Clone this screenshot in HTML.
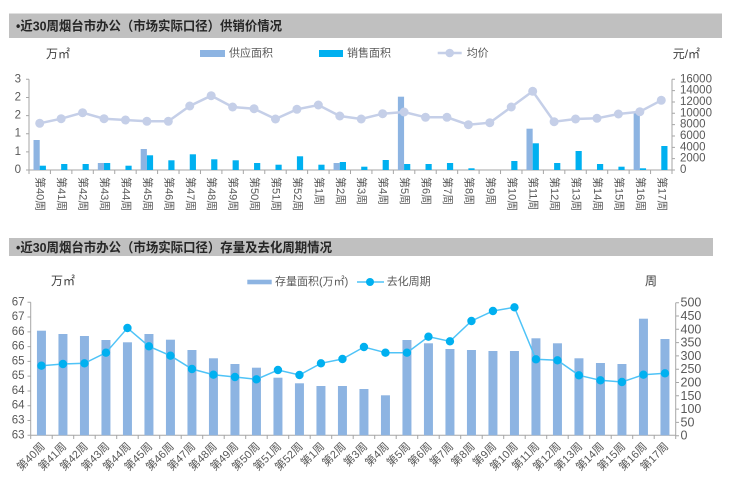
<!DOCTYPE html>
<html><head><meta charset="utf-8"><style>
html,body{margin:0;padding:0;background:#fff;}
svg{display:block;}
text{font-family:"Liberation Sans","Noto Sans CJK SC",sans-serif;fill:#595959;}
.h{font-weight:bold;fill:#262626;font-size:13px;}
.ax{font-size:11.5px;}
.lg{font-size:11px;}
.xl{font-size:11px;}
</style></head><body>
<svg width="740" height="500" viewBox="0 0 740 500" xmlns="http://www.w3.org/2000/svg">
<rect x="0" y="0" width="740" height="500" fill="#fff"/>
<!-- Top header -->
<rect x="9" y="13.5" width="713" height="24.5" fill="#C0C0C0"/>
<text class="h" x="16" y="26" dominant-baseline="central" textLength="266" lengthAdjust="spacingAndGlyphs">•近30周烟台市办公（市场实际口径）供销价情况</text>

<!-- Top legend -->
<text class="lg" x="46" y="54" dominant-baseline="central" style="font-size:12px;fill:#404040">万㎡</text>
<rect x="200" y="50" width="25" height="7" fill="#8DB4E2"/>
<text class="lg" x="229" y="53.5" dominant-baseline="central">供应面积</text>
<rect x="319" y="50" width="24" height="7" fill="#00B0F0"/>
<text class="lg" x="347" y="53.5" dominant-baseline="central">销售面积</text>
<line x1="437.7" y1="53" x2="461.7" y2="53" stroke="#C5CFE8" stroke-width="2.5"/>
<circle cx="449.7" cy="53" r="4.3" fill="#C5CFE8"/>
<text class="lg" x="466.7" y="53.5" dominant-baseline="central">均价</text>
<text class="lg" x="672.7" y="54" dominant-baseline="central" style="font-size:12px;fill:#404040">元/㎡</text>

<!-- Top axes -->
<g stroke="#A6A6A6" stroke-width="1" fill="none">
<line x1="29" y1="79.3" x2="29" y2="170"/>
<line x1="672" y1="79.3" x2="672" y2="170"/>
<line x1="29" y1="170" x2="672" y2="170"/>
<path d="M26 170H29M26 151.86H29M26 133.72H29M26 115.58H29M26 97.44H29M26 79.3H29"/>
<path d="M672 170H675M672 158.66H675M672 147.32H675M672 135.98H675M672 124.64H675M672 113.3H675M672 101.96H675M672 90.62H675M672 79.3H675"/>
<path d="M29 170V174M50.43 170V174M71.87 170V174M93.3 170V174M114.73 170V174M136.17 170V174M157.6 170V174M179.03 170V174M200.47 170V174M221.9 170V174M243.33 170V174M264.77 170V174M286.2 170V174M307.63 170V174M329.07 170V174M350.5 170V174M371.93 170V174M393.37 170V174M414.8 170V174M436.23 170V174M457.67 170V174M479.1 170V174M500.53 170V174M521.97 170V174M543.4 170V174M564.83 170V174M586.27 170V174M607.7 170V174M629.13 170V174M650.57 170V174M672 170V174"/>
</g>
<g class="ax" text-anchor="end">
<text x="21" y="170" dominant-baseline="central" class="ax">0</text>
<text x="21" y="151.86" dominant-baseline="central" class="ax">1</text>
<text x="21" y="133.72" dominant-baseline="central" class="ax">1</text>
<text x="21" y="115.58" dominant-baseline="central" class="ax">2</text>
<text x="21" y="97.44" dominant-baseline="central" class="ax">2</text>
<text x="21" y="79.3" dominant-baseline="central" class="ax">3</text>
</g>
<g>
<text x="680" y="170" dominant-baseline="central" class="ax">0</text>
<text x="680" y="158.66" dominant-baseline="central" class="ax">2000</text>
<text x="680" y="147.32" dominant-baseline="central" class="ax">4000</text>
<text x="680" y="135.98" dominant-baseline="central" class="ax">6000</text>
<text x="680" y="124.64" dominant-baseline="central" class="ax">8000</text>
<text x="680" y="113.3" dominant-baseline="central" class="ax">10000</text>
<text x="680" y="101.96" dominant-baseline="central" class="ax">12000</text>
<text x="680" y="90.62" dominant-baseline="central" class="ax">14000</text>
<text x="680" y="79.3" dominant-baseline="central" class="ax">16000</text>
</g>

<!-- Top supply bars -->
<g fill="#8DB4E2">
<rect x="33.52" y="140" width="6.2" height="30"/>
<rect x="97.82" y="163" width="6.2" height="7"/>
<rect x="140.68" y="149" width="6.2" height="21"/>
<rect x="333.58" y="163" width="6.2" height="7"/>
<rect x="397.88" y="96.7" width="6.2" height="73.3"/>
<rect x="526.48" y="128.7" width="6.2" height="41.3"/>
<rect x="633.65" y="112.3" width="6.2" height="57.7"/>
</g>
<!-- Top sales bars -->
<g fill="#00B0F0">
<rect x="39.72" y="165.7" width="6.2" height="4.3"/>
<rect x="61.15" y="164" width="6.2" height="6"/>
<rect x="82.58" y="164" width="6.2" height="6"/>
<rect x="104.02" y="163" width="6.2" height="7"/>
<rect x="125.45" y="165.7" width="6.2" height="4.3"/>
<rect x="146.88" y="155.3" width="6.2" height="14.7"/>
<rect x="168.32" y="160.3" width="6.2" height="9.7"/>
<rect x="189.75" y="154.3" width="6.2" height="15.7"/>
<rect x="211.18" y="159.3" width="6.2" height="10.7"/>
<rect x="232.61" y="160.3" width="6.2" height="9.7"/>
<rect x="254.05" y="163" width="6.2" height="7"/>
<rect x="275.48" y="164.7" width="6.2" height="5.3"/>
<rect x="296.91" y="156.3" width="6.2" height="13.7"/>
<rect x="318.35" y="164.7" width="6.2" height="5.3"/>
<rect x="339.78" y="162" width="6.2" height="8"/>
<rect x="361.21" y="166.7" width="6.2" height="3.3"/>
<rect x="382.65" y="160" width="6.2" height="10"/>
<rect x="404.08" y="164" width="6.2" height="6"/>
<rect x="425.51" y="164" width="6.2" height="6"/>
<rect x="446.95" y="163" width="6.2" height="7"/>
<rect x="468.38" y="168.3" width="6.2" height="1.7"/>
<rect x="511.25" y="161" width="6.2" height="9"/>
<rect x="532.68" y="143.3" width="6.2" height="26.7"/>
<rect x="554.11" y="163" width="6.2" height="7"/>
<rect x="575.55" y="151" width="6.2" height="19"/>
<rect x="596.98" y="164" width="6.2" height="6"/>
<rect x="618.41" y="166.7" width="6.2" height="3.3"/>
<rect x="639.85" y="168.3" width="6.2" height="1.7"/>
<rect x="661.28" y="146" width="6.2" height="24"/>
</g>
<!-- Top price line -->
<polyline fill="none" stroke="#C5CFE8" stroke-width="2.5" points="39.72,123.3 61.15,118.7 82.58,112.7 104.02,118.7 125.45,120 146.88,121.3 168.32,121.3 189.75,106 211.18,95.7 232.61,107 254.05,108.7 275.48,119 296.91,109.3 318.35,105 339.78,116 361.21,119 382.65,113.7 404.08,112 425.51,117.3 446.95,117.3 468.38,124.7 489.81,122.7 511.25,107 532.68,91.3 554.11,121.7 575.55,119 596.98,118.3 618.41,114 639.85,111.7 661.28,100.3"/>
<g fill="#C5CFE8">
<circle cx="39.72" cy="123.3" r="4.5"/><circle cx="61.15" cy="118.7" r="4.5"/><circle cx="82.58" cy="112.7" r="4.5"/><circle cx="104.02" cy="118.7" r="4.5"/><circle cx="125.45" cy="120" r="4.5"/><circle cx="146.88" cy="121.3" r="4.5"/><circle cx="168.32" cy="121.3" r="4.5"/><circle cx="189.75" cy="106" r="4.5"/><circle cx="211.18" cy="95.7" r="4.5"/><circle cx="232.61" cy="107" r="4.5"/><circle cx="254.05" cy="108.7" r="4.5"/><circle cx="275.48" cy="119" r="4.5"/><circle cx="296.91" cy="109.3" r="4.5"/><circle cx="318.35" cy="105" r="4.5"/><circle cx="339.78" cy="116" r="4.5"/><circle cx="361.21" cy="119" r="4.5"/><circle cx="382.65" cy="113.7" r="4.5"/><circle cx="404.08" cy="112" r="4.5"/><circle cx="425.51" cy="117.3" r="4.5"/><circle cx="446.95" cy="117.3" r="4.5"/><circle cx="468.38" cy="124.7" r="4.5"/><circle cx="489.81" cy="122.7" r="4.5"/><circle cx="511.25" cy="107" r="4.5"/><circle cx="532.68" cy="91.3" r="4.5"/><circle cx="554.11" cy="121.7" r="4.5"/><circle cx="575.55" cy="119" r="4.5"/><circle cx="596.98" cy="118.3" r="4.5"/><circle cx="618.41" cy="114" r="4.5"/><circle cx="639.85" cy="111.7" r="4.5"/><circle cx="661.28" cy="100.3" r="4.5"/>
</g>
<!-- Top x labels (vertical) -->
<g class="xl" dominant-baseline="central">
<text class="xl" x="39.72" y="177" dominant-baseline="central" transform="rotate(90 39.72 177)">第40周</text>
<text class="xl" x="61.15" y="177" dominant-baseline="central" transform="rotate(90 61.15 177)">第41周</text>
<text class="xl" x="82.58" y="177" dominant-baseline="central" transform="rotate(90 82.58 177)">第42周</text>
<text class="xl" x="104.02" y="177" dominant-baseline="central" transform="rotate(90 104.02 177)">第43周</text>
<text class="xl" x="125.45" y="177" dominant-baseline="central" transform="rotate(90 125.45 177)">第44周</text>
<text class="xl" x="146.88" y="177" dominant-baseline="central" transform="rotate(90 146.88 177)">第45周</text>
<text class="xl" x="168.32" y="177" dominant-baseline="central" transform="rotate(90 168.32 177)">第46周</text>
<text class="xl" x="189.75" y="177" dominant-baseline="central" transform="rotate(90 189.75 177)">第47周</text>
<text class="xl" x="211.18" y="177" dominant-baseline="central" transform="rotate(90 211.18 177)">第48周</text>
<text class="xl" x="232.61" y="177" dominant-baseline="central" transform="rotate(90 232.61 177)">第49周</text>
<text class="xl" x="254.05" y="177" dominant-baseline="central" transform="rotate(90 254.05 177)">第50周</text>
<text class="xl" x="275.48" y="177" dominant-baseline="central" transform="rotate(90 275.48 177)">第51周</text>
<text class="xl" x="296.91" y="177" dominant-baseline="central" transform="rotate(90 296.91 177)">第52周</text>
<text class="xl" x="318.35" y="177" dominant-baseline="central" transform="rotate(90 318.35 177)">第1周</text>
<text class="xl" x="339.78" y="177" dominant-baseline="central" transform="rotate(90 339.78 177)">第2周</text>
<text class="xl" x="361.21" y="177" dominant-baseline="central" transform="rotate(90 361.21 177)">第3周</text>
<text class="xl" x="382.65" y="177" dominant-baseline="central" transform="rotate(90 382.65 177)">第4周</text>
<text class="xl" x="404.08" y="177" dominant-baseline="central" transform="rotate(90 404.08 177)">第5周</text>
<text class="xl" x="425.51" y="177" dominant-baseline="central" transform="rotate(90 425.51 177)">第6周</text>
<text class="xl" x="446.95" y="177" dominant-baseline="central" transform="rotate(90 446.95 177)">第7周</text>
<text class="xl" x="468.38" y="177" dominant-baseline="central" transform="rotate(90 468.38 177)">第8周</text>
<text class="xl" x="489.81" y="177" dominant-baseline="central" transform="rotate(90 489.81 177)">第9周</text>
<text class="xl" x="511.25" y="177" dominant-baseline="central" transform="rotate(90 511.25 177)">第10周</text>
<text class="xl" x="532.68" y="177" dominant-baseline="central" transform="rotate(90 532.68 177)">第11周</text>
<text class="xl" x="554.11" y="177" dominant-baseline="central" transform="rotate(90 554.11 177)">第12周</text>
<text class="xl" x="575.55" y="177" dominant-baseline="central" transform="rotate(90 575.55 177)">第13周</text>
<text class="xl" x="596.98" y="177" dominant-baseline="central" transform="rotate(90 596.98 177)">第14周</text>
<text class="xl" x="618.41" y="177" dominant-baseline="central" transform="rotate(90 618.41 177)">第15周</text>
<text class="xl" x="639.85" y="177" dominant-baseline="central" transform="rotate(90 639.85 177)">第16周</text>
<text class="xl" x="661.28" y="177" dominant-baseline="central" transform="rotate(90 661.28 177)">第17周</text>
</g>

<!-- Bottom header -->
<rect x="9" y="238" width="704" height="18" fill="#C0C0C0"/>
<text class="h" x="16" y="247.5" dominant-baseline="central" textLength="316" lengthAdjust="spacingAndGlyphs">•近30周烟台市办公（市场实际口径）存量及去化周期情况</text>

<!-- Bottom legend -->
<text class="lg" x="51" y="281" dominant-baseline="central" style="font-size:12px;fill:#404040">万㎡</text>
<rect x="247.3" y="279.7" width="24.4" height="4.6" fill="#8DB4E2"/>
<text class="lg" x="275" y="282" dominant-baseline="central">存量面积(万㎡)</text>
<line x1="357" y1="282" x2="384" y2="282" stroke="#4FC3F7" stroke-width="1.5"/>
<circle cx="370" cy="282" r="4" fill="#00B0F0"/>
<text class="lg" x="386.7" y="282" dominant-baseline="central">去化周期</text>
<text class="lg" x="645" y="281" dominant-baseline="central" style="font-size:12px;fill:#404040">周</text>

<!-- Bottom axes -->
<g stroke="#A6A6A6" stroke-width="1" fill="none">
<line x1="30.7" y1="302.3" x2="30.7" y2="435.3"/>
<line x1="675.7" y1="302.7" x2="675.7" y2="435.7"/>
<line x1="30.7" y1="435.3" x2="675.7" y2="435.3"/>
<path d="M27.5 435.3H30.7M27.5 420.52H30.7M27.5 405.74H30.7M27.5 390.96H30.7M27.5 376.18H30.7M27.5 361.4H30.7M27.5 346.62H30.7M27.5 331.84H30.7M27.5 317.06H30.7M27.5 302.3H30.7"/>
<path d="M675.7 435.7H679M675.7 422.4H679M675.7 409.1H679M675.7 395.8H679M675.7 382.5H679M675.7 369.2H679M675.7 355.9H679M675.7 342.6H679M675.7 329.3H679M675.7 316H679M675.7 302.7H679"/>
<path d="M30.7 435.3V439M52.2 435.3V439M73.7 435.3V439M95.2 435.3V439M116.7 435.3V439M138.2 435.3V439M159.7 435.3V439M181.2 435.3V439M202.7 435.3V439M224.2 435.3V439M245.7 435.3V439M267.2 435.3V439M288.7 435.3V439M310.2 435.3V439M331.7 435.3V439M353.2 435.3V439M374.7 435.3V439M396.2 435.3V439M417.7 435.3V439M439.2 435.3V439M460.7 435.3V439M482.2 435.3V439M503.7 435.3V439M525.2 435.3V439M546.7 435.3V439M568.2 435.3V439M589.7 435.3V439M611.2 435.3V439M632.7 435.3V439M654.2 435.3V439M675.7 435.3V439"/>
</g>
<g text-anchor="end">
<text class="ax" x="24.5" y="435.3" dominant-baseline="central">63</text>
<text class="ax" x="24.5" y="420.52" dominant-baseline="central">63</text>
<text class="ax" x="24.5" y="405.74" dominant-baseline="central">64</text>
<text class="ax" x="24.5" y="390.96" dominant-baseline="central">64</text>
<text class="ax" x="24.5" y="376.18" dominant-baseline="central">65</text>
<text class="ax" x="24.5" y="361.4" dominant-baseline="central">65</text>
<text class="ax" x="24.5" y="346.62" dominant-baseline="central">66</text>
<text class="ax" x="24.5" y="331.84" dominant-baseline="central">66</text>
<text class="ax" x="24.5" y="317.06" dominant-baseline="central">67</text>
<text class="ax" x="24.5" y="302.3" dominant-baseline="central">67</text>
</g>
<g>
<text class="ax" x="680.5" y="435.7" dominant-baseline="central" style="font-size:12.5px">0</text>
<text class="ax" x="680.5" y="422.4" dominant-baseline="central" style="font-size:12.5px">50</text>
<text class="ax" x="680.5" y="409.1" dominant-baseline="central" style="font-size:12.5px">100</text>
<text class="ax" x="680.5" y="395.8" dominant-baseline="central" style="font-size:12.5px">150</text>
<text class="ax" x="680.5" y="382.5" dominant-baseline="central" style="font-size:12.5px">200</text>
<text class="ax" x="680.5" y="369.2" dominant-baseline="central" style="font-size:12.5px">250</text>
<text class="ax" x="680.5" y="355.9" dominant-baseline="central" style="font-size:12.5px">300</text>
<text class="ax" x="680.5" y="342.6" dominant-baseline="central" style="font-size:12.5px">350</text>
<text class="ax" x="680.5" y="329.3" dominant-baseline="central" style="font-size:12.5px">400</text>
<text class="ax" x="680.5" y="316" dominant-baseline="central" style="font-size:12.5px">450</text>
<text class="ax" x="680.5" y="302.7" dominant-baseline="central" style="font-size:12.5px">500</text>
</g>

<!-- Bottom bars -->
<g fill="#8DB4E2">
<rect x="36.95" y="330.7" width="9" height="104.6"/>
<rect x="58.45" y="334" width="9" height="101.3"/>
<rect x="79.95" y="336" width="9" height="99.3"/>
<rect x="101.45" y="340" width="9" height="95.3"/>
<rect x="122.95" y="342.3" width="9" height="93"/>
<rect x="144.45" y="334" width="9" height="101.3"/>
<rect x="165.95" y="339.7" width="9" height="95.6"/>
<rect x="187.45" y="350" width="9" height="85.3"/>
<rect x="208.95" y="358.3" width="9" height="77"/>
<rect x="230.45" y="364" width="9" height="71.3"/>
<rect x="251.95" y="367.7" width="9" height="67.6"/>
<rect x="273.45" y="377.7" width="9" height="57.6"/>
<rect x="294.95" y="383.3" width="9" height="52"/>
<rect x="316.45" y="386" width="9" height="49.3"/>
<rect x="337.95" y="386" width="9" height="49.3"/>
<rect x="359.45" y="389" width="9" height="46.3"/>
<rect x="380.95" y="395.3" width="9" height="40"/>
<rect x="402.45" y="340" width="9" height="95.3"/>
<rect x="423.95" y="343.3" width="9" height="92"/>
<rect x="445.45" y="349" width="9" height="86.3"/>
<rect x="466.95" y="350" width="9" height="85.3"/>
<rect x="488.45" y="351" width="9" height="84.3"/>
<rect x="509.95" y="351" width="9" height="84.3"/>
<rect x="531.45" y="338.3" width="9" height="97"/>
<rect x="552.95" y="343.3" width="9" height="92"/>
<rect x="574.45" y="358.3" width="9" height="77"/>
<rect x="595.95" y="363" width="9" height="72.3"/>
<rect x="617.45" y="364" width="9" height="71.3"/>
<rect x="638.95" y="318.7" width="9" height="116.6"/>
<rect x="660.45" y="339" width="9" height="96.3"/>
</g>
<!-- Bottom line -->
<polyline fill="none" stroke="#4FC3F7" stroke-width="1.5" points="41.45,365.7 62.95,364 84.45,363.3 105.95,352.7 127.45,328 148.95,346.3 170.45,355.7 191.95,369 213.45,374.7 234.95,377 256.45,379.3 277.95,370 299.45,375 320.95,363.3 342.45,359 363.95,347 385.45,352.7 406.95,352.7 428.45,336.7 449.95,341.3 471.45,321 492.95,311 514.45,307.3 535.95,359.3 557.45,360.3 578.95,375.3 600.45,380.3 621.95,382 643.45,374.7 664.95,373.3"/>
<g fill="#00B0F0">
<circle cx="41.45" cy="365.7" r="4.2"/><circle cx="62.95" cy="364" r="4.2"/><circle cx="84.45" cy="363.3" r="4.2"/><circle cx="105.95" cy="352.7" r="4.2"/><circle cx="127.45" cy="328" r="4.2"/><circle cx="148.95" cy="346.3" r="4.2"/><circle cx="170.45" cy="355.7" r="4.2"/><circle cx="191.95" cy="369" r="4.2"/><circle cx="213.45" cy="374.7" r="4.2"/><circle cx="234.95" cy="377" r="4.2"/><circle cx="256.45" cy="379.3" r="4.2"/><circle cx="277.95" cy="370" r="4.2"/><circle cx="299.45" cy="375" r="4.2"/><circle cx="320.95" cy="363.3" r="4.2"/><circle cx="342.45" cy="359" r="4.2"/><circle cx="363.95" cy="347" r="4.2"/><circle cx="385.45" cy="352.7" r="4.2"/><circle cx="406.95" cy="352.7" r="4.2"/><circle cx="428.45" cy="336.7" r="4.2"/><circle cx="449.95" cy="341.3" r="4.2"/><circle cx="471.45" cy="321" r="4.2"/><circle cx="492.95" cy="311" r="4.2"/><circle cx="514.45" cy="307.3" r="4.2"/><circle cx="535.95" cy="359.3" r="4.2"/><circle cx="557.45" cy="360.3" r="4.2"/><circle cx="578.95" cy="375.3" r="4.2"/><circle cx="600.45" cy="380.3" r="4.2"/><circle cx="621.95" cy="382" r="4.2"/><circle cx="643.45" cy="374.7" r="4.2"/><circle cx="664.95" cy="373.3" r="4.2"/>
</g>
<!-- Bottom x labels (rotated -45) -->
<g text-anchor="end">
<text class="xl" x="43.45" y="445" dominant-baseline="central" transform="rotate(-45 43.45 445)">第40周</text>
<text class="xl" x="64.95" y="445" dominant-baseline="central" transform="rotate(-45 64.95 445)">第41周</text>
<text class="xl" x="86.45" y="445" dominant-baseline="central" transform="rotate(-45 86.45 445)">第42周</text>
<text class="xl" x="107.95" y="445" dominant-baseline="central" transform="rotate(-45 107.95 445)">第43周</text>
<text class="xl" x="129.45" y="445" dominant-baseline="central" transform="rotate(-45 129.45 445)">第44周</text>
<text class="xl" x="150.95" y="445" dominant-baseline="central" transform="rotate(-45 150.95 445)">第45周</text>
<text class="xl" x="172.45" y="445" dominant-baseline="central" transform="rotate(-45 172.45 445)">第46周</text>
<text class="xl" x="193.95" y="445" dominant-baseline="central" transform="rotate(-45 193.95 445)">第47周</text>
<text class="xl" x="215.45" y="445" dominant-baseline="central" transform="rotate(-45 215.45 445)">第48周</text>
<text class="xl" x="236.95" y="445" dominant-baseline="central" transform="rotate(-45 236.95 445)">第49周</text>
<text class="xl" x="258.45" y="445" dominant-baseline="central" transform="rotate(-45 258.45 445)">第50周</text>
<text class="xl" x="279.95" y="445" dominant-baseline="central" transform="rotate(-45 279.95 445)">第51周</text>
<text class="xl" x="301.45" y="445" dominant-baseline="central" transform="rotate(-45 301.45 445)">第52周</text>
<text class="xl" x="322.95" y="445" dominant-baseline="central" transform="rotate(-45 322.95 445)">第1周</text>
<text class="xl" x="344.45" y="445" dominant-baseline="central" transform="rotate(-45 344.45 445)">第2周</text>
<text class="xl" x="365.95" y="445" dominant-baseline="central" transform="rotate(-45 365.95 445)">第3周</text>
<text class="xl" x="387.45" y="445" dominant-baseline="central" transform="rotate(-45 387.45 445)">第4周</text>
<text class="xl" x="408.95" y="445" dominant-baseline="central" transform="rotate(-45 408.95 445)">第5周</text>
<text class="xl" x="430.45" y="445" dominant-baseline="central" transform="rotate(-45 430.45 445)">第6周</text>
<text class="xl" x="451.95" y="445" dominant-baseline="central" transform="rotate(-45 451.95 445)">第7周</text>
<text class="xl" x="473.45" y="445" dominant-baseline="central" transform="rotate(-45 473.45 445)">第8周</text>
<text class="xl" x="494.95" y="445" dominant-baseline="central" transform="rotate(-45 494.95 445)">第9周</text>
<text class="xl" x="516.45" y="445" dominant-baseline="central" transform="rotate(-45 516.45 445)">第10周</text>
<text class="xl" x="537.95" y="445" dominant-baseline="central" transform="rotate(-45 537.95 445)">第11周</text>
<text class="xl" x="559.45" y="445" dominant-baseline="central" transform="rotate(-45 559.45 445)">第12周</text>
<text class="xl" x="580.95" y="445" dominant-baseline="central" transform="rotate(-45 580.95 445)">第13周</text>
<text class="xl" x="602.45" y="445" dominant-baseline="central" transform="rotate(-45 602.45 445)">第14周</text>
<text class="xl" x="623.95" y="445" dominant-baseline="central" transform="rotate(-45 623.95 445)">第15周</text>
<text class="xl" x="645.45" y="445" dominant-baseline="central" transform="rotate(-45 645.45 445)">第16周</text>
<text class="xl" x="666.95" y="445" dominant-baseline="central" transform="rotate(-45 666.95 445)">第17周</text>
</g>
</svg>
</body></html>
